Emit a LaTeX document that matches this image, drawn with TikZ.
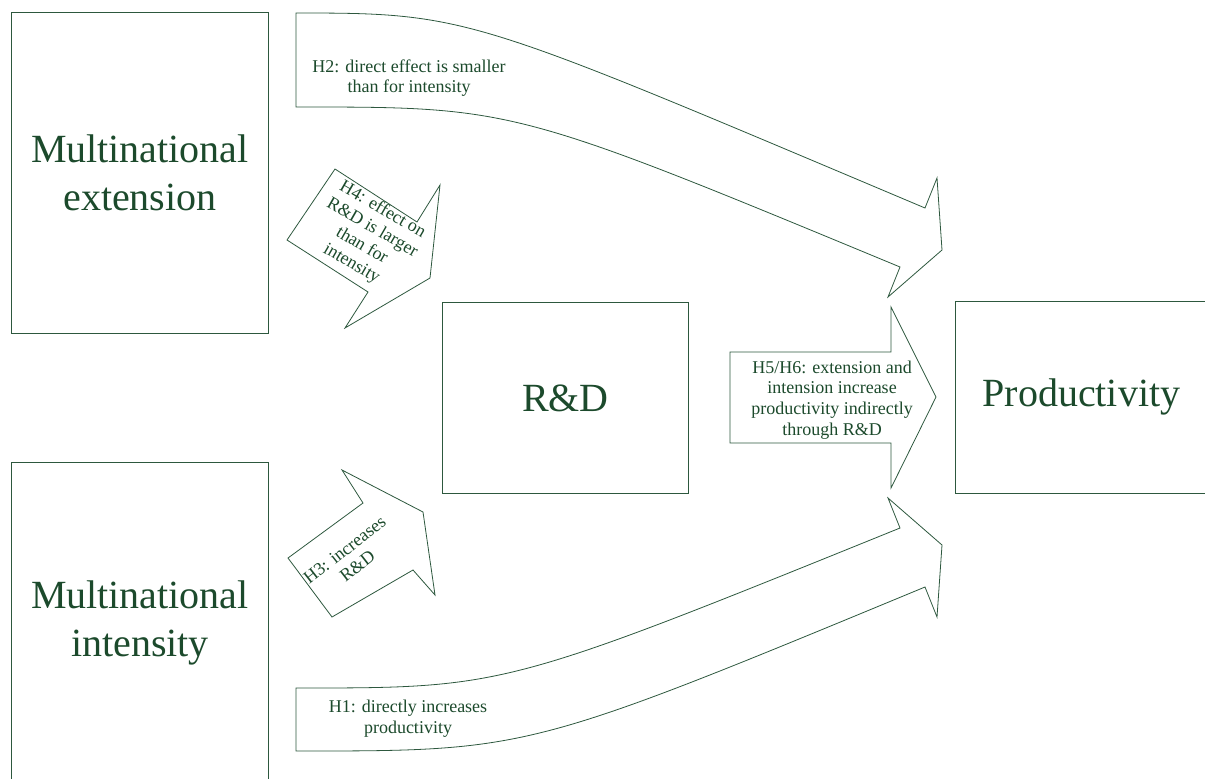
\documentclass[tikz,border=0pt]{standalone}
\usepackage{fontspec}
\setmainfont{Liberation Serif}
\newlength{\pxunit}
\setlength{\pxunit}{0.75pt}
\definecolor{textgreen}{RGB}{28,74,44}
\definecolor{linegreen}{RGB}{45,88,62}

\begin{document}
\begin{tikzpicture}[
  x=\pxunit,
  y=-\pxunit,
  bigbox/.style={
    draw=linegreen,
    line width=0.6pt,
    text=textgreen,
    align=center,
    inner sep=0pt,
    anchor=north west,
    font=\fontsize{30}{36}\selectfont
  },
  block arrow/.style={
    draw=linegreen,
    line width=0.6pt,
    fill=white,
    line join=miter
  },
  arrow label/.style={
    text=textgreen,
    align=center,
    inner sep=0pt,
    font=\fontsize{13.5}{15.5}\selectfont
  },
]
\useasboundingbox (0,0) rectangle (1205,778);
\clip (0,0) rectangle (1205,778);

\node[bigbox, minimum width=257*\pxunit, minimum height=321*\pxunit] (ext) at (11,12) {Multinational\\extension};
\node[bigbox, minimum width=257*\pxunit, minimum height=321*\pxunit] (int) at (11,462) {Multinational\\intensity};
\node[bigbox, minimum width=246*\pxunit, minimum height=191*\pxunit] (rd) at (442,302) {R\&D};
\node[bigbox, minimum width=252*\pxunit, minimum height=192*\pxunit] (prod) at (955,301) {Productivity};

% curved arrows straight to productivity
\draw[block arrow] (296,13) .. controls (470,13) and (470,16) .. (925,208)
  -- (937,178) -- (942,250) -- (888,297) -- (900,267)
  .. controls (514,107) and (514,107) .. (296,107) -- cycle;
\draw[block arrow] (296,688) .. controls (505,688) and (505,688) .. (900,528)
  -- (888,498) -- (942,545) -- (937,617) -- (925,587)
  .. controls (529,751) and (529,751) .. (296,751) -- cycle;

% arrows into and out of R&D
\draw[block arrow] (335,169) -- (417,222) -- (440,185) -- (430,278)
  -- (345,328) -- (368,292) -- (287,240) -- cycle;
\draw[block arrow] (288,558) -- (363,503) -- (342,470) -- (423,512)
  -- (435,595) -- (413,570) -- (332,617) -- cycle;
\draw[block arrow] (730,352) -- (891,352) -- (891,307) -- (936,397)
  -- (891,488) -- (891,443) -- (730,443) -- cycle;

\node[arrow label] (h2) at (409,78) {H2: direct effect is smaller\\than for intensity};
\node[arrow label] (h1) at (408,719) {H1: directly increases\\productivity};
\node[arrow label] (h56) at (832,400) {H5/H6: extension and\\intension increase\\productivity indirectly\\through R\&D};
\node[arrow label, rotate=-30] (h4) at (367,237) {H4: effect on\\R\&D is larger\\than for\\intensity};
\node[arrow label, rotate=38] (h3) at (351,558) {H3: increases\\R\&D};
\end{tikzpicture}
\end{document}
